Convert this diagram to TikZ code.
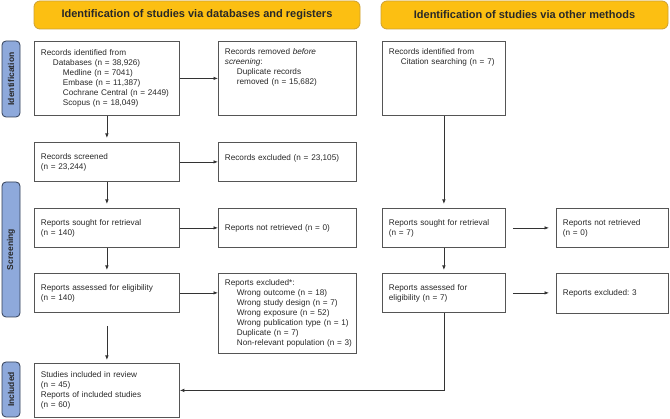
\documentclass[tikz,border=0pt]{standalone}
\usepackage{fontspec}
\setmainfont{Liberation Sans}
\usetikzlibrary{arrows.meta}

\definecolor{hdrfill}{RGB}{252,191,18}
\definecolor{hdrline}{RGB}{205,160,50}
\definecolor{sidefill}{RGB}{142,169,219}
\definecolor{sideline}{RGB}{50,62,85}
\definecolor{boxline}{RGB}{85,85,85}
\definecolor{txtgray}{RGB}{40,40,40}

\newcommand{\lvlone}{\hspace*{12pt}}
\newcommand{\lvltwo}{\hspace*{22pt}}

\tikzset{
  header/.style={draw=hdrline, fill=hdrfill, rounded corners=6pt, line width=0.8pt,
    font=\fontsize{11}{13}\selectfont\bfseries, text=txtgray},
  sidelabel/.style={draw=sideline, fill=sidefill, rounded corners=4pt, line width=0.8pt,
    rotate=90, minimum height=18pt, inner sep=0pt,
    font=\fontsize{8.5}{10}\selectfont\bfseries, text=txtgray},
  flowbox/.style={draw=boxline, line width=0.8pt, anchor=north west, align=left,
    inner xsep=6.5pt, inner ysep=4pt, font=\fontsize{8.2}{10}\selectfont\frenchspacing, text=txtgray},
  arrow/.style={-{Latex[length=4.5pt,width=3.5pt]}, line width=0.7pt, draw=black!80},
}

\begin{document}
\begin{tikzpicture}[x=1pt,y=-1pt]
            \useasboundingbox (0,0) rectangle (670,419);

            \node (hdrdb) at (197,15) [header, minimum width=326pt, minimum height=28pt] {Identification of studies via databases and registers};
            \node (hdrother) at (524.5,15) [header, minimum width=287pt, minimum height=28pt] {Identification of studies via other methods};

            \node (sideident) at (11,79) [sidelabel, minimum width=76pt] {Identification};
            \node (sidescreen) at (11,249.5) [sidelabel, minimum width=135pt] {Screening};
            \node (sideincl) at (11,389.5) [sidelabel, minimum width=55pt] {Included};

            \node (ident) at (34,41) [flowbox, text width=132pt, minimum height=74pt] {Records identified from\\\lvlone Databases (n = 38,926)\\\lvltwo Medline (n = 7041)\\\lvltwo Embase (n = 11,387)\\\lvltwo Cochrane Central (n = 2449)\\\lvltwo Scopus (n = 18,049)};
            \node (removed) at (218,41) [flowbox, text width=125pt, minimum height=74pt, text height=9pt, text depth=57pt] {Records removed \textit{before}\\\textit{screening}:\\\lvlone Duplicate records\\\lvlone removed (n = 15,682)};
            \node (citation) at (382,41) [flowbox, text width=110pt, minimum height=74pt, text height=9pt, text depth=57pt] {Records identified from\\\lvlone Citation searching (n = 7)};

            \node (screened) at (34,142) [flowbox, text width=132pt, minimum height=39pt] {Records screened\\(n = 23,244)};
            \node (excluded) at (218,142) [flowbox, text width=125pt, minimum height=39pt, text height=14pt, text depth=17pt] {Records excluded (n = 23,105)};

            \node (sought) at (34,208) [flowbox, text width=132pt, minimum height=39pt] {Reports sought for retrieval\\(n = 140)};
            \node (notretr) at (218,208) [flowbox, text width=125pt, minimum height=39pt] {Reports not retrieved (n = 0)};
            \node (rsought) at (382,208) [flowbox, text width=110pt, minimum height=39pt] {Reports sought for retrieval\\(n = 7)};
            \node (rnotretr) at (556,208) [flowbox, text width=99pt, minimum height=39pt] {Reports not retrieved\\(n = 0)};

            \node (assessed) at (34,273) [flowbox, text width=132pt, minimum height=39pt] {Reports assessed for eligibility\\(n = 140)};
            \node (reportsexcl) at (218,273) [flowbox, text width=125pt, minimum height=80pt] {Reports excluded*:\\\lvlone Wrong outcome (n = 18)\\\lvlone Wrong study design (n = 7)\\\lvlone Wrong exposure (n = 52)\\\lvlone Wrong publication type (n = 1)\\\lvlone Duplicate (n = 7)\\\lvlone \mbox{Non-relevant population (n = 3)}};
            \node (rassessed) at (382,273) [flowbox, text width=110pt, minimum height=39pt] {Reports assessed for\\eligibility (n = 7)};
            \node (rexcluded) at (556,273) [flowbox, text width=99pt, minimum height=40pt] {Reports excluded: 3};

            \node (included) at (34,363) [flowbox, text width=132pt, minimum height=54pt] {Studies included in review\\(n = 45)\\Reports of included studies\\(n = 60)};

            \draw[arrow] (ident.east) -- (removed.west);
            \draw[arrow] (screened.east) -- (excluded.west);
            \draw[arrow] (sought.east) -- (notretr.west);
            \draw[arrow] (assessed.east) -- (assessed.east -| reportsexcl.west);
            \draw[arrow, shorten <=7pt, shorten >=7pt] (rsought.east) -- (rnotretr.west);
            \draw[arrow, shorten <=7pt, shorten >=7pt] (rassessed.east) -- (rassessed.east -| rexcluded.west);

            \draw[arrow, shorten >=4pt] (ident.south) -- (screened.north);
            \draw[arrow, shorten >=4pt] (screened.south) -- (sought.north);
            \draw[arrow, shorten >=3pt] (sought.south) -- (assessed.north);
            \draw[arrow, shorten <=13pt, shorten >=3pt] (assessed.south) -- (included.north);
            \draw[arrow, shorten >=4pt] (citation.south) -- (rsought.north);
            \draw[arrow, shorten >=3pt] (rsought.south) -- (rassessed.north);
            \draw[arrow] (rassessed.south) |- (included.east);
        \end{tikzpicture}
\end{document}
